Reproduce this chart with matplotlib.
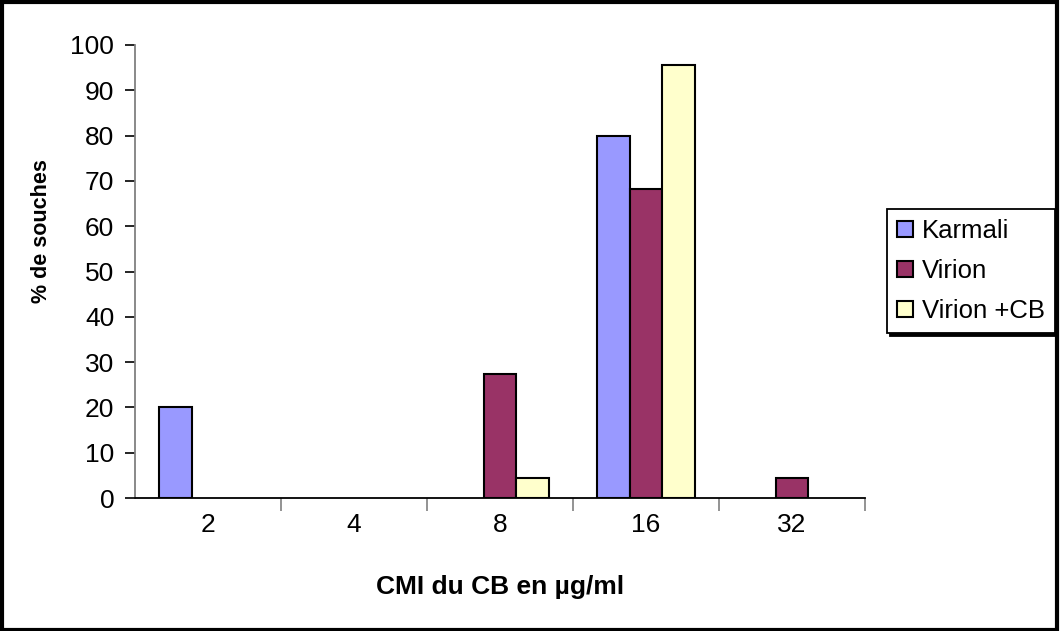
import numpy as np
import matplotlib
matplotlib.use('Agg')
import matplotlib.pyplot as plt
from matplotlib.patches import Rectangle

plt.rcParams['font.family'] = ['Liberation Sans', 'DejaVu Sans']

cmi = ['2', '4', '8', '16', '32']
karmali = [20, 0, 0, 80, 0]
virion = [0, 0, 27.3, 68.2, 4.5]
virion_cb = [0, 0, 4.5, 95.5, 0]

series = [('Karmali', karmali, '#9999FF'),
          ('Virion', virion, '#993366'),
          ('Virion +CB', virion_cb, '#FFFFCC')]

fig = plt.figure(figsize=(10.6, 6.31), dpi=100)
ax = fig.add_axes([135/1060, 133/631, 730/1060, 453/631])

x = np.arange(len(cmi))
w = 0.226
for i, (name, vals, col) in enumerate(series):
  vals = np.array(vals, dtype=float)
  # empty classes get no bar outline along the axis
  lw = np.where(vals > 0, 1.5, 0)
  ax.bar(x + (i - 1)*w, vals, w, color=col, edgecolor='black', linewidth=lw,
         label=name)

ax.set_xlim(-0.5, len(cmi) - 0.5)
ax.set_ylim(0, 100)
ax.set_yticks(range(0, 101, 10))
ax.set_xticks(x)
ax.set_xticklabels(cmi)
ax.set_xticks(np.arange(len(cmi)) + 0.5, minor=True)
ax.tick_params(axis='x', which='major', length=0, labelsize=19, pad=11)
ax.tick_params(axis='x', which='minor', length=9, width=1.2, color='#808080')
ax.tick_params(axis='y', length=7, width=1.2, labelsize=19, pad=8)

for s in ['top', 'right']:
  ax.spines[s].set_visible(False)
ax.spines['left'].set_color('#808080')
ax.spines['left'].set_linewidth(1.3)
ax.spines['bottom'].set_linewidth(1.3)

ax.set_xlabel('CMI du CB en µg/ml', fontsize=19, fontweight='bold')
ax.xaxis.set_label_coords(0.5, -0.17)
ax.set_ylabel('% de souches', fontsize=15.5, fontweight='bold')
ax.yaxis.set_label_coords(-0.114, 0.589)

leg = fig.legend(loc='upper left', bbox_to_anchor=(887/1060, 1 - 209/631),
                 fontsize=18.5, frameon=True, fancybox=False,
                 handlelength=0.6, handleheight=0.55, handletextpad=0.35,
                 labelspacing=0.62, borderpad=0.4, borderaxespad=0,
                 shadow={'color': 'black', 'alpha': 1.0})
leg.get_frame().set_edgecolor('black')
leg.get_frame().set_linewidth(1.3)
for h in leg.legend_handles:
  h.set_linewidth(1.5)

# border round the whole figure
fig.patches.append(Rectangle((0.0015, 0.002), 0.996, 0.995, transform=fig.transFigure,
                             fill=False, edgecolor='black', linewidth=3))

fig.savefig('out.png', dpi=100)
